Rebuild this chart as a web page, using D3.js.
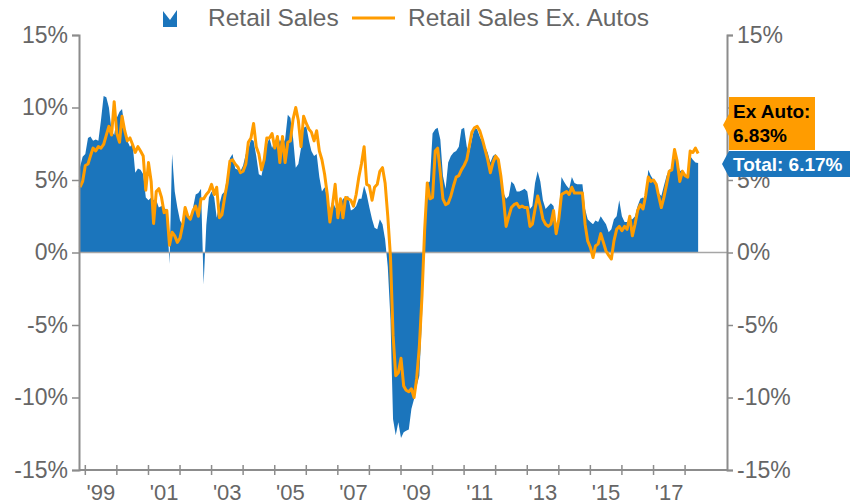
<!DOCTYPE html>
<html>
<head>
<meta charset="utf-8">
<script src="https://cdn.jsdelivr.net/npm/d3@7"></script>
<style>
  body { margin: 0; background: #fff; }
  svg text { font-family: "Liberation Sans", Arial, sans-serif; }
</style>
</head>
<body>
<svg id="chart" width="850" height="503"></svg>
<script>
// monthly y/y % change, Nov 1998 .. Jun 2018
const firstMonth = new Date(1998, 10, 1);

const retailSales = [
  5.9, 6.6,
  6.8, 7.9, 8.0, 7.7, 7.8, 7.7, 9.1, 10.8, 10.7, 10.0, 8.4, 8.1,
  9.3, 9.7, 9.9, 8.6, 7.7, 7.3, 7.5, 5.5, 5.8, 5.7, 5.4, 3.8,
  3.6, 3.8, 3.6, 3.6, 3.1, 3.2, 3.1, 2.9, -0.8, 6.8, 4.2, 3.1,
  2.2, 1.9, 2.9, 2.4, 2.2, 3.1, 4.0, 4.1, 4.4, -2.2, 1.9, 3.8,
  4.2, 3.8, 2.4, 3.3, 4.0, 4.2, 5.2, 6.5, 6.8, 5.8, 5.7, 5.6,
  6.0, 6.8, 7.1, 7.8, 7.7, 6.65, 5.4, 5.3, 6.3, 7.45, 7.9, 7.2,
  7.7, 7.2, 7.8, 7.45, 7.8, 9.5, 9.3, 7.9, 5.85, 6.1, 7.2, 8.6,
  8.7, 7.7, 7.0, 6.65, 6.8, 5.2, 4.2, 4.5, 3.8, 2.9, 3.6, 3.1,
  3.0, 3.3, 3.7, 3.8, 3.9, 2.9, 3.0, 3.2, 3.7, 3.7, 4.6, 4.0,
  3.1, 2.3, 1.7, 1.6, 2.3, 1.95, 0.9, -1.0, -4.6, -11.5, -12.6, -11.7,
  -12.8, -12.4, -12.3, -12.2, -10.8, -10.1, -9.2, -8.5, -4.5, 1.5, 4.8, 4.9,
  8.2, 8.5, 8.6, 7.8, 5.3, 4.4, 6.2, 6.65, 6.9, 7.0, 7.3, 8.5,
  8.6, 7.3, 6.9, 7.8, 8.6, 8.5, 8.0, 7.6, 7.3, 6.9, 6.2, 6.65,
  6.8, 6.2, 5.3, 4.1, 3.7, 3.9, 4.9, 4.7, 4.2, 4.2, 4.3, 4.4,
  4.2, 3.0, 3.2, 4.8, 5.6, 4.9, 3.6, 3.0, 3.2, 3.4, 3.2, 1.6,
  2.75, 5.2, 4.9, 4.6, 4.4, 5.2, 4.8, 4.7, 4.7, 4.7, 3.0, 2.3,
  2.1, 1.95, 2.2, 2.1, 2.5, 2.2, 1.95, 1.4, 1.6, 2.3, 2.5, 3.6,
  2.5, 2.1, 2.1, 2.3, 2.3, 2.5, 3.2, 3.7, 3.8, 3.6, 5.7, 5.3,
  5.0, 4.7, 4.1, 3.9, 4.6, 5.3, 5.7, 5.8, 7.0, 6.4, 5.6, 5.7,
  5.4, 5.3, 6.65, 6.4, 6.2, 6.17
];

const retailExAutos = [
  4.5, 4.9,
  6.0, 6.1, 6.65, 7.2, 7.0, 7.3, 7.2, 7.45, 8.1, 8.7, 8.1, 10.4,
  8.2, 7.6, 9.4, 8.4, 7.7, 7.9, 7.45, 6.9, 7.3, 7.0, 6.65, 4.3,
  6.2, 4.9, 2.0, 4.2, 4.4, 3.8, 2.75, 2.9, 0.5, 1.4, 1.15, 0.7,
  1.0, 1.9, 3.1, 2.5, 2.3, 2.9, 3.2, 2.5, 3.7, 3.7, 4.0, 4.2,
  4.7, 4.0, 4.5, 2.4, 2.6, 3.8, 4.8, 6.3, 6.4, 6.1, 5.9, 5.5,
  5.6, 6.1, 7.6, 7.9, 8.9, 7.3, 6.8, 5.7, 6.4, 7.9, 7.9, 8.2,
  7.2, 8.0, 6.2, 8.0, 6.2, 7.6, 7.7, 9.2, 10.0, 9.1, 7.3, 9.4,
  8.9, 8.5, 8.3, 7.7, 8.4, 7.0, 6.4, 5.4, 4.0, 2.1, 3.3, 4.7,
  2.4, 3.7, 2.4, 3.8, 3.7, 3.6, 3.2, 4.0, 5.2, 6.1, 7.3, 4.7,
  4.6, 3.6, 4.5, 4.7, 5.6, 5.85, 4.8, 2.5, -0.3, -5.7, -8.5, -8.3,
  -7.3, -9.2, -9.5, -9.6, -9.4, -10.0, -8.7, -6.5, -3.0, 1.5, 4.8, 3.7,
  3.8, 7.0, 7.2, 5.5, 3.7, 3.3, 3.4, 3.9, 4.6, 5.2, 5.3, 5.7,
  6.0, 6.4, 7.3, 8.3, 8.6, 8.7, 8.4, 7.8, 7.1, 6.4, 5.5, 6.2,
  6.65, 6.4, 5.3, 3.7, 1.8, 2.5, 3.1, 3.3, 3.4, 3.1, 3.2, 3.1,
  3.1, 1.8, 1.95, 3.0, 3.9, 3.2, 2.3, 1.95, 1.8, 1.95, 2.9, 1.3,
  2.3, 4.0, 4.1, 4.2, 4.0, 4.5, 4.1, 4.1, 4.1, 4.1, 1.95, 0.8,
  0.35, -0.35, 0.45, 0.6, 1.3, 0.7, 0.1, -0.2, -0.45, 0.8, 1.6, 1.8,
  1.5, 1.8, 1.6, 2.5, 1.15, 1.95, 2.9, 3.3, 3.0, 3.9, 5.2, 4.9,
  5.0, 4.7, 3.9, 3.1, 3.8, 4.7, 5.6, 5.7, 7.1, 6.3, 4.9, 5.6,
  5.3, 5.2, 7.0, 6.9, 7.2, 6.83
];

const yTicks = [-15, -10, -5, 0, 5, 10, 15];
const labelYears = [1999, 2001, 2003, 2005, 2007, 2009, 2011, 2013, 2015, 2017];
const seriesNames = ["Retail Sales", "Retail Sales Ex. Autos"];
const lastTotal = "Total: 6.17%";
const lastExAuto = ["Ex Auto:", "6.83%"];

const blue = "#1b75bc";
const orange = "#ff9c00";
const axisGrey = "#8c8c8c";
const textGrey = "#666";

const svg = d3.select("#chart");

const x = d3.scaleTime()
  .domain([new Date(1998, 9, 20), new Date(2019, 4, 1)])
  .range([79, 727]);
const y = d3.scaleLinear().domain([-15, 15]).range([470, 35]);

const data = retailSales.map((v, i) => ({
  date: d3.timeMonth.offset(firstMonth, i),
  total: v,
  exAuto: retailExAutos[i]
}));

// blue area
svg.append("path")
  .datum(data)
  .attr("fill", blue)
  .attr("d", d3.area()
    .x(d => x(d.date))
    .y0(y(0))
    .y1(d => y(d.total)));

// zero line
svg.append("line")
  .attr("x1", x.range()[0]).attr("x2", x.range()[1])
  .attr("y1", y(0)).attr("y2", y(0))
  .attr("stroke", "#a6a6a6").attr("stroke-width", 1.5);

// orange line
svg.append("path")
  .datum(data)
  .attr("fill", "none")
  .attr("stroke", orange)
  .attr("stroke-width", 3)
  .attr("stroke-linejoin", "round")
  .attr("d", d3.line()
    .x(d => x(d.date))
    .y(d => y(d.exAuto)));

// left axis
const leftAxis = svg.append("g")
  .attr("transform", `translate(${x.range()[0]},0)`)
  .call(d3.axisLeft(y).tickValues(yTicks).tickSize(7).tickPadding(4).tickFormat(d => d + "%"));

// right axis
const rightAxis = svg.append("g")
  .attr("transform", `translate(${x.range()[1]},0)`)
  .call(d3.axisRight(y).tickValues(yTicks).tickSize(6).tickPadding(4).tickFormat(d => d + "%"));

[leftAxis, rightAxis].forEach(g => {
  g.select(".domain").attr("stroke", axisGrey).attr("stroke-width", 2);
  g.selectAll(".tick line").attr("stroke", axisGrey).attr("stroke-width", 1.5);
  g.selectAll(".tick text")
    .attr("fill", textGrey)
    .style("font-size", "23px")
    .attr("font-family", null);
});

// bottom axis: year ticks crossing the line, labels centred in the year
const bottom = svg.append("g").attr("transform", `translate(0,${y(-15)})`);
bottom.append("line")
  .attr("x1", x.range()[0]).attr("x2", x.range()[1])
  .attr("stroke", axisGrey).attr("stroke-width", 2);
const yearTicks = d3.timeYear.range(new Date(1999, 0, 1), new Date(2019, 0, 1));
bottom.selectAll(".yt")
  .data(yearTicks)
  .enter().append("line")
  .attr("x1", d => x(d)).attr("x2", d => x(d))
  .attr("y1", -5).attr("y2", 5)
  .attr("stroke", axisGrey).attr("stroke-width", 1.5);
bottom.selectAll(".yl")
  .data(labelYears)
  .enter().append("text")
  .attr("x", d => x(new Date(d, 6, 1)))
  .attr("y", 30)
  .attr("text-anchor", "middle")
  .attr("fill", textGrey)
  .style("font-size", "22px")
  .text(d => "'" + String(d).slice(2));

// legend
const legend = svg.append("g");
legend.append("path")
  .attr("d", "M163,27L163,11L170,20L177,10L177,27Z")
  .attr("fill", blue);
legend.append("text")
  .attr("x", 208).attr("y", 26)
  .attr("fill", textGrey).style("font-size", "24.5px")
  .text(seriesNames[0]);
legend.append("line")
  .attr("x1", 352).attr("x2", 395).attr("y1", 18).attr("y2", 18)
  .attr("stroke", orange).attr("stroke-width", 3);
legend.append("text")
  .attr("x", 408).attr("y", 26)
  .attr("fill", textGrey).style("font-size", "24.5px")
  .text(seriesNames[1]);

// last-value callouts
svg.append("path")
  .attr("d", "M729,97L815,97L815,150L729,150L729,136L723,125L729,114Z")
  .attr("fill", orange);
svg.append("text")
  .attr("x", 733).attr("y", 118)
  .attr("font-weight", "bold").style("font-size", "19px").attr("fill", "#000")
  .text(lastExAuto[0]);
svg.append("text")
  .attr("x", 733).attr("y", 142)
  .attr("font-weight", "bold").style("font-size", "19px").attr("fill", "#000")
  .text(lastExAuto[1]);

svg.append("path")
  .attr("d", "M722,164L729,151L850,151L850,177L729,177Z")
  .attr("fill", blue);
svg.append("text")
  .attr("x", 733).attr("y", 171)
  .attr("font-weight", "bold").style("font-size", "19px").attr("fill", "#fff")
  .text(lastTotal);
</script>
</body>
</html>
